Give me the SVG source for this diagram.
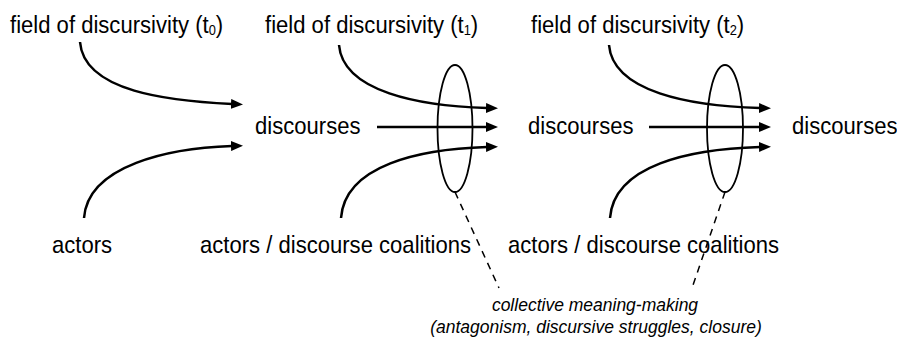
<svg xmlns="http://www.w3.org/2000/svg" width="897" height="344" viewBox="0 0 897 344">
<style>
.lbl{font-family:"Liberation Sans",Arial,sans-serif;font-size:24px;fill:#000}
.sub{font-size:14px}
.note{font-family:"Liberation Sans",Arial,sans-serif;font-size:17.5px;font-style:italic;fill:#000;text-anchor:middle}
.arr{fill:none;stroke:#000;stroke-width:2.5;marker-end:url(#ah)}
.ell{fill:none;stroke:#000;stroke-width:1.8}
.dash{fill:none;stroke:#000;stroke-width:1.5;stroke-dasharray:7,6}
</style>
<defs>
<marker id="ah" viewBox="0 0 12 10" markerWidth="12" markerHeight="10" refX="1" refY="5" markerUnits="userSpaceOnUse" orient="auto">
<path d="M0,0 L12,5 L0,10 z" fill="#000"/>
</marker>
</defs>
<g id="field-t0" transform="translate(10,33) scale(0.92,1)"><text class="lbl" x="0" y="0">field of discursivity (t<tspan class="sub" dy="2">0</tspan><tspan dy="-2">)</tspan></text></g>
<g id="field-t1" transform="translate(265,33) scale(0.92,1)"><text class="lbl" x="0" y="0">field of discursivity (t<tspan class="sub" dy="2">1</tspan><tspan dy="-2">)</tspan></text></g>
<g id="field-t2" transform="translate(531,33) scale(0.92,1)"><text class="lbl" x="0" y="0">field of discursivity (t<tspan class="sub" dy="2">2</tspan><tspan dy="-2">)</tspan></text></g>
<g id="discourses-0" transform="translate(255,134) scale(0.92,1)"><text class="lbl" x="0" y="0">discourses</text></g>
<g id="discourses-1" transform="translate(528,134) scale(0.92,1)"><text class="lbl" x="0" y="0">discourses</text></g>
<g id="discourses-2" transform="translate(792,134) scale(0.92,1)"><text class="lbl" x="0" y="0">discourses</text></g>
<g id="actors" transform="translate(52,253) scale(0.92,1)"><text class="lbl" x="0" y="0">actors</text></g>
<g id="coalitions-1" transform="translate(200,253) scale(0.92,1)"><text class="lbl" x="0" y="0">actors / discourse coalitions</text></g>
<g id="coalitions-2" transform="translate(508,253) scale(0.92,1)"><text class="lbl" x="0" y="0">actors / discourse coalitions</text></g>
<g id="meaning-making-1"><ellipse class="ell" cx="455" cy="128.5" rx="17.5" ry="63.5"/></g>
<g id="meaning-making-2"><ellipse class="ell" cx="725" cy="128.5" rx="18" ry="63.5"/></g>
<g id="note"><text class="note" x="595" y="311">collective meaning-making</text><text class="note" x="596" y="333">(antagonism, discursive struggles, closure)</text></g>
<g id="connectors">
<path class="arr" d="M80,42 C84,92 170,101 232,104"/>
<path class="arr" d="M84,218 C88,165 170,148 232,146"/>
<path class="arr" d="M339,45 C343,92 420,106 487,108"/>
<path class="arr" d="M377,127 L487,127"/>
<path class="arr" d="M341,218 C345,165 420,149 487,147"/>
<path class="arr" d="M609,45 C613,92 690,106 760,108"/>
<path class="arr" d="M649,127 L760,127"/>
<path class="arr" d="M610,218 C614,165 690,149 760,147"/>
<path class="dash" d="M455,192 L499,288"/>
<path class="dash" d="M725,192 L692,288"/>
</g>
</svg>
